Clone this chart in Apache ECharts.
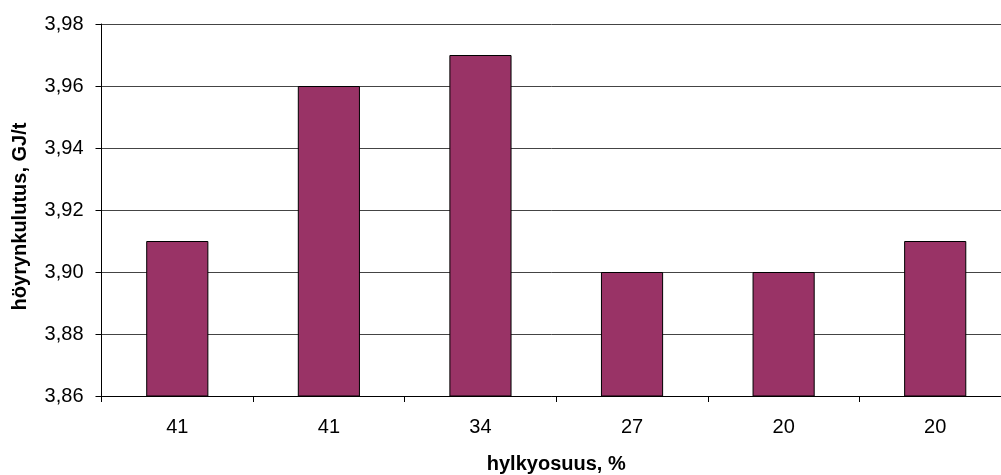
<!DOCTYPE html>
<html>
<head>
<meta charset="utf-8">
<script src="https://cdn.jsdelivr.net/npm/echarts@6/dist/echarts.min.js"></script>
<style>
  html, body { margin: 0; padding: 0; background: #fff; }
  #chart { width: 1001px; height: 475px; }
</style>
</head>
<body>
<div id="chart"></div>
<script>
// Steam consumption by reject share
const categories = ['41', '41', '34', '27', '20', '20'];
const consumption = [3.91, 3.96, 3.97, 3.90, 3.90, 3.91];
const yMin = 3.86, yMax = 3.98, yStep = 0.02;

const chart = echarts.init(document.getElementById('chart'), null, { renderer: 'canvas' });
const font = '"Liberation Sans", Arial, sans-serif';

chart.setOption({
  animation: false,
  backgroundColor: '#ffffff',
  grid: {
    left: 101.5, right: -10, top: 24, bottom: 79,
    containLabel: false, outerBoundsMode: 'none'
  },
  xAxis: {
    type: 'category',
    data: categories,
    name: 'hylkyosuus, %',
    nameLocation: 'middle',
    nameGap: 58,
    nameTextStyle: { fontFamily: font, fontSize: 20, fontWeight: 'bold', color: '#000' },
    axisLine: { lineStyle: { color: '#000', width: 1 } },
    axisTick: { show: true, alignWithLabel: false, length: 6, lineStyle: { color: '#000' } },
    axisLabel: { fontFamily: font, fontSize: 20, color: '#000', margin: 21 },
    splitLine: { show: false }
  },
  yAxis: {
    type: 'value',
    min: yMin, max: yMax, interval: yStep,
    name: 'höyrynkulutus, GJ/t',
    nameLocation: 'middle',
    nameGap: 71,
    nameRotate: 90,
    nameTextStyle: {
      fontFamily: font, fontSize: 20, fontWeight: 'bold', color: '#000',
      padding: [0, 13, 0, 0]
    },
    axisLine: { show: true, lineStyle: { color: '#000', width: 1 } },
    axisTick: { show: true, length: 6, lineStyle: { color: '#000' } },
    axisLabel: {
      fontFamily: font, fontSize: 20, color: '#000', margin: 18,
      formatter: v => v.toFixed(2).replace('.', ',')
    },
    splitLine: { show: true, lineStyle: { color: '#444', width: 1 } }
  },
  series: [{
    type: 'bar',
    data: consumption,
    barWidth: '41%',
    itemStyle: { color: '#993366', borderColor: '#000', borderWidth: 1 }
  }]
});
</script>
</body>
</html>
